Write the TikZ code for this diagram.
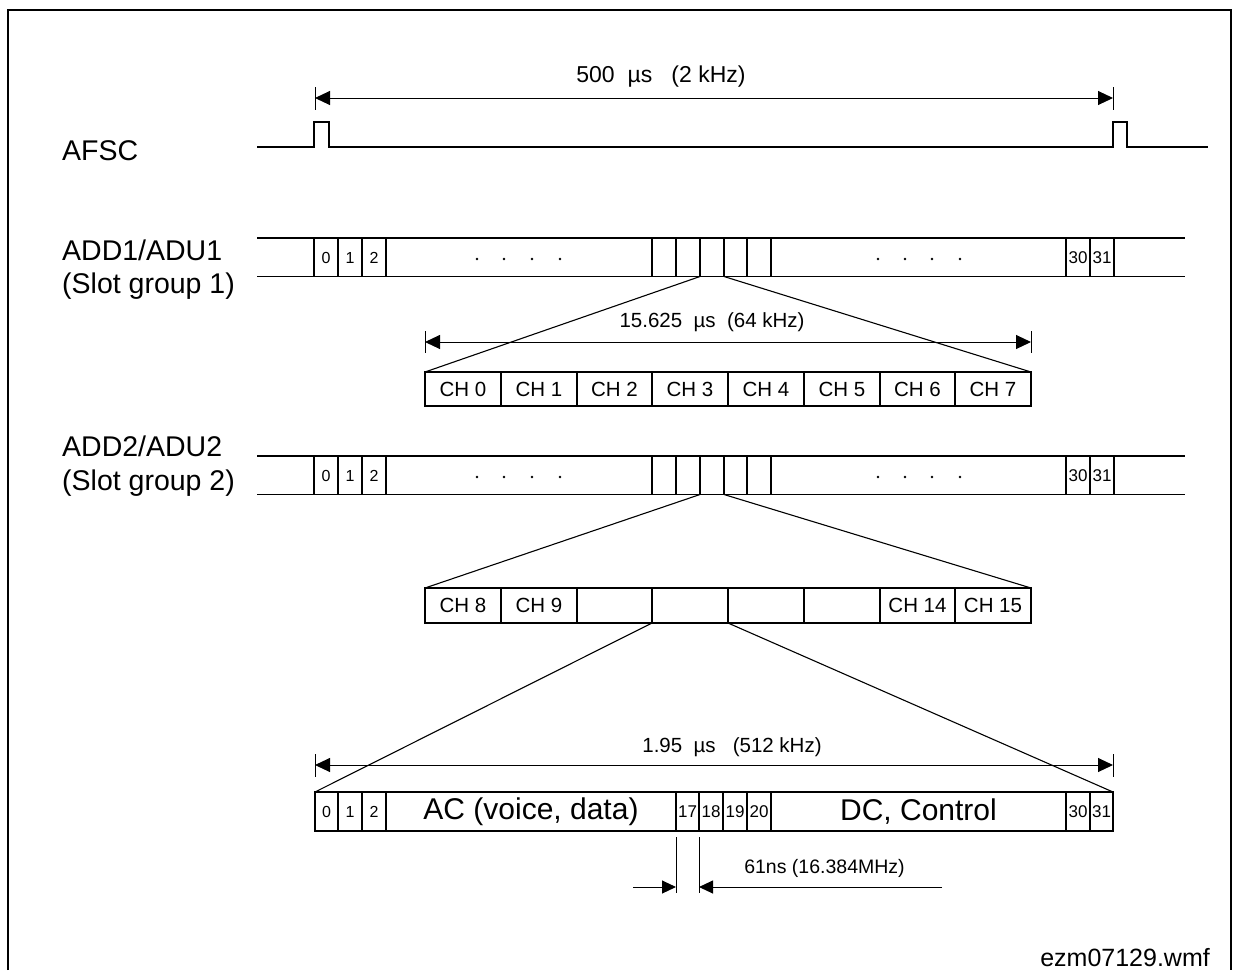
\documentclass[tikz,border=0pt]{standalone}
\usepackage{fontspec}
\setmainfont{Liberation Sans}
\usetikzlibrary{arrows.meta}
\begin{document}
\begin{tikzpicture}[x=1pt,y=-1pt,
  ln/.style={line width=1.1pt},
  dimln/.style={line width=1pt},
  tk/.style={line width=1pt},
  both/.style={{Triangle[length=15pt,width=14pt]}-{Triangle[length=15pt,width=14pt]}},
  tip/.style={-{Triangle[length=14pt,width=13pt]}},
  big/.style={font=\fontsize{28.5}{32}\selectfont, inner sep=0},
  huge/.style={font=\fontsize{30}{34}\selectfont, inner sep=0},
  top/.style={font=\fontsize{23}{26}\selectfont, inner sep=0},
  mid/.style={font=\fontsize{20.5}{24}\selectfont, inner sep=0},
  sml/.style={font=\fontsize{16}{18}\selectfont, inner sep=0},
  smm/.style={font=\fontsize{17}{19}\selectfont, inner sep=0},
  foot/.style={font=\fontsize{25}{28}\selectfont, inner sep=0},
]
\useasboundingbox (0,0) rectangle (1234,970);
% frame
\draw[line width=2.3pt] (8,970) -- (8,10) -- (1231,10) -- (1231,970);

% ---------- top dimension ----------
\coordinate (tL) at (315,98);
\coordinate (tR) at (1113,98);
\draw[tk] (315,87) -- (315,110);
\draw[tk] (1113,87) -- (1113,110);
\draw[dimln,both] (tL) -- (tR);
\node[top] (t500) at (661,77) {500\ \ µs\ \ \ (2 kHz)};

% ---------- AFSC ----------
\node[big,anchor=base west] (afsc) at (62,160) {AFSC};
\draw[ln] (257,147) -- (314,147) -- (314,122) -- (329,122) -- (329,147)
  -- (1113,147) -- (1113,122) -- (1127,122) -- (1127,147) -- (1208,147);

% ---------- ADD rows ----------
\node[big,anchor=base west] (add1) at (62,260) {ADD1/ADU1};
\node[big,anchor=base west] (sg1) at (62,293) {(Slot group 1)};
\node[big,anchor=base west] (add2) at (62,456) {ADD2/ADU2};
\node[big,anchor=base west] (sg2) at (62,490) {(Slot group 2)};

\foreach \yt/\r in {238/a,456/b} {
  \begin{scope}[shift={(0,\yt)}]
    \draw[ln] (257,0) -- (1185,0) (257,38.5) -- (1185,38.5);
    \foreach \x in {314,338,362,386,652,676,700,724,747,771,1066,1090,1114}
      \draw[ln] (\x,0) -- (\x,38.5);
    \node[sml] (\r0) at (326,19.5) {0};
    \node[sml] (\r1) at (350,19.5) {1};
    \node[sml] (\r2) at (374,19.5) {2};
    \node[smm] (\r30) at (1078,19.5) {30};
    \node[smm] (\r31) at (1102,19.5) {31};
    \foreach \x in {477,504,532,560,878,905,932,960}
      \fill (\x,21) circle (1.3);
  \end{scope}
}
\coordinate (a1L) at (700,276.5);
\coordinate (a1R) at (724,276.5);
\coordinate (a2L) at (700,494.5);
\coordinate (a2R) at (724,494.5);

% ---------- CH row 1 ----------
\coordinate (c1L) at (425,372);
\coordinate (c1R) at (1031,372);
\draw[ln] (425,372) rectangle (1031,406);
\foreach \x in {501,577,652,728,804,880,955}
  \draw[ln] (\x,372) -- (\x,406);
\foreach \c/\t/\i in {463/CH 0/0,539/CH 1/1,614.5/CH 2/2,690/CH 3/3,766/CH 4/4,842/CH 5/5,917.5/CH 6/6,993/CH 7/7}
  \node[mid] (ch\i) at (\c,389.5) {\t};
\draw[ln] (a1L) -- (c1L);
\draw[ln] (a1R) -- (c1R);

\coordinate (m1L) at (425,342);
\coordinate (m1R) at (1031,342);
\draw[tk] (425,331) -- (425,353);
\draw[tk] (1031,331) -- (1031,353);
\draw[dimln,both] (m1L) -- (m1R);
\node[mid] (l15) at (712,322) {15.625\ \ µs\ \ (64 kHz)};

% ---------- CH row 2 ----------
\coordinate (c2L) at (425,588);
\coordinate (c2R) at (1031,588);
\draw[ln] (425,588) rectangle (1031,623);
\foreach \x in {501,577,652,728,804,880,955}
  \draw[ln] (\x,588) -- (\x,623);
\foreach \c/\t/\i in {463/CH 8/8,539/CH 9/9,917.5/CH 14/14,993/CH 15/15}
  \node[mid] (ch\i) at (\c,605.5) {\t};
\draw[ln] (a2L) -- (c2L);
\draw[ln] (a2R) -- (c2R);
\coordinate (c3L) at (652,623);
\coordinate (c3R) at (728,623);

% ---------- bottom row ----------
\coordinate (bL) at (315,792);
\coordinate (bR) at (1113,792);
\draw[ln] (315,792) rectangle (1113,831);
\foreach \x in {338,362,386,676,699,747,771,1066,1090}
  \draw[ln] (\x,792) -- (\x,831);
\draw[line width=2.6pt] (723,792) -- (723,831);
\node[sml] (b0) at (326.5,811.5) {0};
\node[sml] (b1) at (350,811.5) {1};
\node[sml] (b2) at (374,811.5) {2};
\node[huge] (bac) at (531,811.5) {AC (voice, data)};
\node[smm] (b17) at (687.5,811.5) {17};
\node[smm] (b18) at (711,811.5) {18};
\node[smm] (b19) at (735,811.5) {19};
\node[smm] (b20) at (759,811.5) {20};
\node[huge] (bdc) at (918.5,811.5) {DC, Control};
\node[smm] (b30) at (1078,811.5) {30};
\node[smm] (b31) at (1101.5,811.5) {31};
\draw[ln] (c3L) -- (bL);
\draw[ln] (c3R) -- (bR);

\coordinate (m2L) at (315,765);
\coordinate (m2R) at (1113,765);
\draw[tk] (315,754) -- (315,777);
\draw[tk] (1113,754) -- (1113,777);
\draw[dimln,both] (m2L) -- (m2R);
\node[mid] (l195) at (732,747) {1.95\ \ µs\ \ \ (512 kHz)};

% ---------- 61 ns ----------
\coordinate (v1) at (676,887);
\coordinate (v2) at (699,887);
\coordinate (s1) at (633,887);
\coordinate (s2) at (942,887);
\draw[tk] (676,837) -- (676,893);
\draw[tk] (699,837) -- (699,893);
\draw[dimln,tip] (s1) -- (v1);
\draw[dimln,tip] (s2) -- (v2);
\node[font=\fontsize{19.5}{22}\selectfont, inner sep=0] (l61) at (824.5,868) {61ns (16.384MHz)};

% ---------- footer ----------
\node[foot,anchor=base east] (ftr) at (1210,966) {ezm07129.wmf};
\end{tikzpicture}
\end{document}
